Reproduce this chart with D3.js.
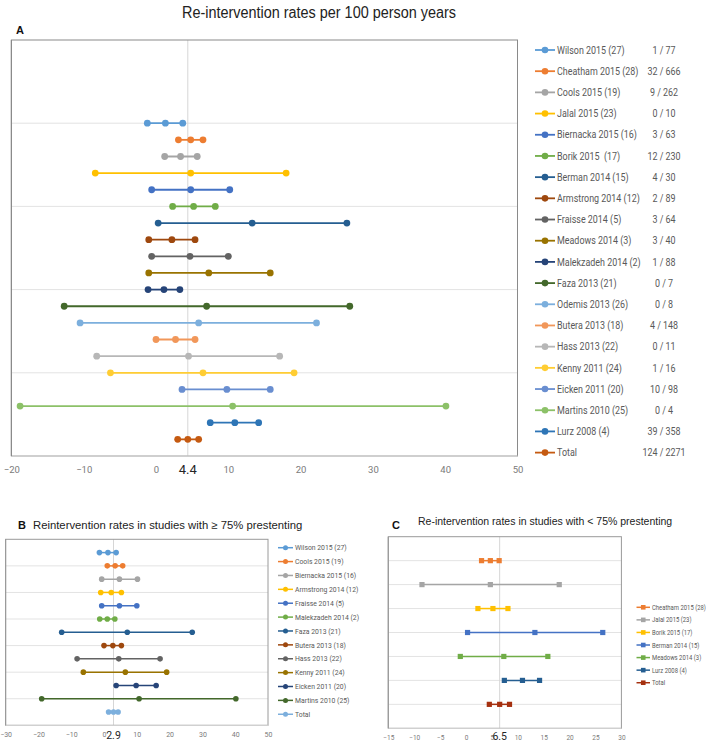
<!DOCTYPE html>
<html><head><meta charset="utf-8">
<script src="https://cdn.jsdelivr.net/npm/d3@7"></script>
<style>
html,body{margin:0;padding:0;background:#fff;}
svg{display:block;}
</style></head>
<body>
<script>
// ---------- DATA ----------
const titleMain = "Re-intervention rates per 100 person years";
const titleB = "Reintervention rates in studies with \u2265 75% prestenting";
const titleC = "Re-intervention rates in studies with < 75% prestenting";

const namesA = ["Wilson 2015 (27)","Cheatham 2015 (28)","Cools 2015 (19)","Jalal 2015 (23)","Biernacka 2015 (16)","Borik 2015  (17)","Berman 2014 (15)","Armstrong 2014 (12)","Fraisse 2014 (5)","Meadows 2014 (3)","Malekzadeh 2014 (2)","Faza 2013 (21)","Odemis 2013 (26)","Butera 2013 (18)","Hass 2013 (22)","Kenny 2011 (24)","Eicken 2011 (20)","Martins 2010 (25)","Lurz 2008 (4)","Total"];
const countsA = ["1 / 77","32 / 666","9 / 262","0 / 10","3 / 63","12 / 230","4 / 30","2 / 89","3 / 64","3 / 40","1 / 88","0 / 7","0 / 8","4 / 148","0 / 11","1 / 16","10 / 98","0 / 4","39 / 358","124 / 2271"];
const lowA  = [-1.2, 3.1, 1.2, -8.4, -0.6, 2.3, 0.3, -1.0, -0.6, -1.0, -1.1, -12.7, -10.5, 0.0, -8.2, -6.3, 3.6, -18.8, 7.5, 3.0];
const rateA = [1.3, 4.8, 3.4, 4.8, 4.8, 5.2, 13.3, 2.2, 4.7, 7.3, 1.1, 7.0, 5.9, 2.7, 4.5, 6.5, 9.8, 10.6, 10.9, 4.4];
const highA = [3.7, 6.5, 5.7, 18.0, 10.2, 8.2, 26.4, 5.4, 10.0, 15.8, 3.3, 26.8, 22.2, 5.4, 17.1, 19.1, 15.8, 40.1, 14.2, 5.9];
const ticksA = [-20, -10, 0, 10, 20, 30, 40, 50];
const pooledA = 4.4;

const namesB = ["Wilson 2015 (27)","Cools 2015 (19)","Biernacka 2015 (16)","Armstrong 2014 (12)","Fraisse 2014 (5)","Malekzadeh 2014 (2)","Faza 2013 (21)","Butera 2013 (18)","Hass 2013 (22)","Kenny 2011 (24)","Eicken 2011 (20)","Martins 2010 (25)","Total"];
const lowB  = [-1.4, 1.0, -0.7, -1.0, -0.7, -1.3, -12.9, 0.0, -8.2, -6.3, 3.7, -19.0, 1.4];
const rateB = [1.2, 3.4, 4.7, 2.2, 4.7, 1.0, 7.1, 2.7, 4.5, 6.5, 9.8, 10.7, 2.9];
const highB = [3.7, 5.7, 10.2, 5.3, 10.0, 3.3, 26.9, 5.3, 17.1, 19.1, 15.9, 40.2, 4.3];
const ticksB = [-30, -20, -10, 0, 10, 20, 30, 40, 50];
const pooledB = 2.9;

const namesC = ["Cheatham 2015 (28)","Jalal 2015 (23)","Borik 2015 (17)","Berman 2014 (15)","Meadows 2014 (3)","Lurz 2008 (4)","Total"];
const lowC  = [3.0, -8.5, 2.3, 0.3, -1.1, 7.4, 4.5];
const rateC = [4.7, 4.7, 5.2, 13.3, 7.3, 10.9, 6.5];
const highC = [6.4, 18.0, 8.1, 26.4, 15.8, 14.2, 8.4];
const ticksC = [-15, -10, -5, 0, 5, 10, 15, 20, 25, 30];
const pooledC = 6.5;

// Excel-style palette
const palette = ["#5B9BD5","#ED7D31","#A5A5A5","#FFC000","#4472C4","#70AD47","#255E91","#9E480E","#636363","#997300","#264478","#43682B","#7CAFDD","#F1975A","#B7B7B7","#FFCD33","#698ED0","#8CC168","#2E75B6","#C55A11"];
const paletteC = ["#ED7D31","#A5A5A5","#FFC000","#4472C4","#70AD47","#255E91","#A5300F"];

// ---------- DRAW ----------
const W = 709, H = 742;
const svg = d3.select("body").append("svg").attr("width", W).attr("height", H);
svg.append("rect").attr("width", W).attr("height", H).attr("fill", "#fff");

const sans = "'Liberation Sans', Arial, sans-serif";
const cal = "Roboto, 'Open Sans', sans-serif";

svg.append("text").attr("x", 182).attr("y", 18)
  .attr("font-family", sans).attr("font-size", 16).attr("fill", "#222")
  .attr("textLength", 274).attr("lengthAdjust", "spacingAndGlyphs").text(titleMain);

// condensed text helper (Calibri-like narrow look)
function ctext(parent, x, y, str, fs, sx, anchor) {
  return parent.append("text")
    .attr("transform", `translate(${x},${y}) scale(${sx},1)`)
    .attr("dy", "0.35em").attr("text-anchor", anchor || "start")
    .attr("font-family", cal).attr("font-size", fs).attr("fill", "#595959")
    .style("white-space", "pre").text(str);
}

function panel(cfg) {
  const g = svg.append("g");
  const x = d3.scaleLinear().domain(cfg.xDomain).range(cfg.xRange);
  const y = d3.scaleLinear().domain(cfg.yDomain).range(cfg.yRange);
  const [x0, x1] = cfg.xRange, [yb, yt] = cfg.yRange;
  g.selectAll(".grid").data(cfg.grid).join("line")
    .attr("x1", x0).attr("x2", x1).attr("y1", d => y(d)).attr("y2", d => y(d))
    .attr("stroke", "#e3e3e3").attr("stroke-width", 1);
  g.append("line").attr("x1", x(cfg.pooled)).attr("x2", x(cfg.pooled))
    .attr("y1", yt).attr("y2", yb).attr("stroke", "#d6d6d6").attr("stroke-width", 1);
  g.append("rect").attr("x", x0).attr("y", yt).attr("width", x1 - x0).attr("height", yb - yt)
    .attr("fill", "none").attr("stroke", cfg.frame).attr("stroke-width", 1);
  g.append("line").attr("x1", x0).attr("x2", x1).attr("y1", yb).attr("y2", yb)
    .attr("stroke", "#d9d9d9").attr("stroke-width", 1);
  g.append("line").attr("x1", x0).attr("x2", x0).attr("y1", yt).attr("y2", yb)
    .attr("stroke", cfg.frame).attr("stroke-width", 1.2);
  const ax = g.append("g").attr("transform", `translate(0,${cfg.tickY})`)
    .call(d3.axisBottom(x).tickValues(cfg.ticks).tickSize(0).tickPadding(0).tickFormat(d3.format("d")));
  ax.select(".domain").remove();
  ax.selectAll("text").attr("dy", 0).attr("y", 0)
    .attr("font-family", cal).attr("font-size", cfg.tickSize).attr("fill", "#7a7a7a");
  g.append("text").attr("x", x(cfg.pooled)).attr("y", cfg.pooledY).attr("text-anchor", "middle")
    .attr("font-family", cal).attr("font-size", cfg.pooledSize).attr("fill", "#262626")
    .text(String(cfg.pooled));
  const rows = cfg.names.map((n, i) => ({ n, i, lo: cfg.low[i], m: cfg.rate[i], hi: cfg.high[i], c: cfg.colors[i], yv: cfg.names.length - i }));
  const s = g.selectAll(".s").data(rows).join("g");
  s.append("line").attr("x1", d => x(d.lo)).attr("x2", d => x(d.hi))
    .attr("y1", d => y(d.yv)).attr("y2", d => y(d.yv))
    .attr("stroke", d => d.c).attr("stroke-width", cfg.lw);
  s.each(function (d) {
    const sel = d3.select(this);
    [d.lo, d.m, d.hi].forEach(v => {
      if (cfg.square) {
        sel.append("rect").attr("x", x(v) - cfg.r).attr("y", y(d.yv) - cfg.r)
          .attr("width", 2 * cfg.r).attr("height", 2 * cfg.r).attr("fill", d.c);
      } else {
        sel.append("circle").attr("cx", x(v)).attr("cy", y(d.yv)).attr("r", cfg.r).attr("fill", d.c);
      }
    });
  });
  const lg = svg.append("g");
  rows.forEach((d, i) => {
    const ly = cfg.leg.y0 + i * cfg.leg.dy;
    lg.append("line").attr("x1", cfg.leg.x0).attr("x2", cfg.leg.x0 + cfg.leg.len)
      .attr("y1", ly).attr("y2", ly).attr("stroke", d.c).attr("stroke-width", cfg.lw);
    const mx = cfg.leg.x0 + cfg.leg.len / 2;
    if (cfg.square) {
      lg.append("rect").attr("x", mx - cfg.leg.r).attr("y", ly - cfg.leg.r)
        .attr("width", 2 * cfg.leg.r).attr("height", 2 * cfg.leg.r).attr("fill", d.c);
    } else {
      lg.append("circle").attr("cx", mx).attr("cy", ly).attr("r", cfg.leg.r).attr("fill", d.c);
    }
    ctext(lg, cfg.leg.x0 + cfg.leg.len + 2, ly, d.n, cfg.leg.fs, cfg.leg.sx);
    if (cfg.counts) ctext(lg, cfg.leg.cx, ly, cfg.counts[i], cfg.leg.fs, cfg.leg.sx, "middle");
  });
}

// Panel A
svg.append("text").attr("x", 16).attr("y", 34).attr("font-family", sans).attr("font-weight", "bold")
  .attr("font-size", 11).attr("fill", "#111").text("A");
panel({
  names: namesA, low: lowA, rate: rateA, high: highA, colors: palette, counts: countsA,
  xDomain: [-20, 50], xRange: [11.4, 517.5], yDomain: [0, 25], yRange: [456, 40],
  grid: [5, 10, 15, 20], ticks: ticksA, pooled: pooledA, frame: "#8a8a8a",
  tickY: 472.5, tickSize: 9.5, pooledY: 474, pooledSize: 13, r: 3.4, lw: 1.8,
  leg: { x0: 535, len: 20, y0: 50, dy: 21.19, r: 3.3, fs: 10.5, sx: 0.85, cx: 664 }
});

// Panel B
svg.append("text").attr("x", 18).attr("y", 529).attr("font-family", sans).attr("font-weight", "bold")
  .attr("font-size", 11).attr("fill", "#111").text("B");
svg.append("text").attr("x", 33).attr("y", 529).attr("font-family", sans)
  .attr("font-size", 11.3).attr("fill", "#222").text(titleB);
panel({
  names: namesB, low: lowB, rate: rateB, high: highB, colors: palette,
  xDomain: [-30, 50], xRange: [5.6, 268], yDomain: [0, 14], yRange: [725.3, 539.3],
  grid: [2, 4, 6, 8, 10, 12], ticks: ticksB, pooled: pooledB, frame: "#9a9a9a",
  tickY: 737, tickSize: 7, pooledY: 739, pooledSize: 10.5, r: 2.8, lw: 1.5,
  leg: { x0: 278, len: 15, y0: 547.7, dy: 13.88, r: 2.5, fs: 7.6, sx: 0.9 }
});

// Panel C
svg.append("text").attr("x", 392).attr("y", 529).attr("font-family", sans).attr("font-weight", "bold")
  .attr("font-size", 11).attr("fill", "#111").text("C");
svg.append("text").attr("x", 418).attr("y", 525).attr("font-family", sans)
  .attr("font-size", 10.5).attr("fill", "#222").text(titleC);
panel({
  names: namesC, low: lowC, rate: rateC, high: highC, colors: paletteC, square: true,
  xDomain: [-15, 30], xRange: [388.3, 621.4], yDomain: [0, 8], yRange: [728.3, 536.7],
  grid: [1, 2, 3, 4, 5, 6, 7], ticks: ticksC, pooled: pooledC, frame: "#9a9a9a",
  tickY: 739.5, tickSize: 6.5, pooledY: 740, pooledSize: 10.5, r: 2.6, lw: 1.5,
  leg: { x0: 636.5, len: 13.5, y0: 607.3, dy: 12.57, r: 2.3, fs: 7.2, sx: 0.82 }
});
</script>
</body></html>
